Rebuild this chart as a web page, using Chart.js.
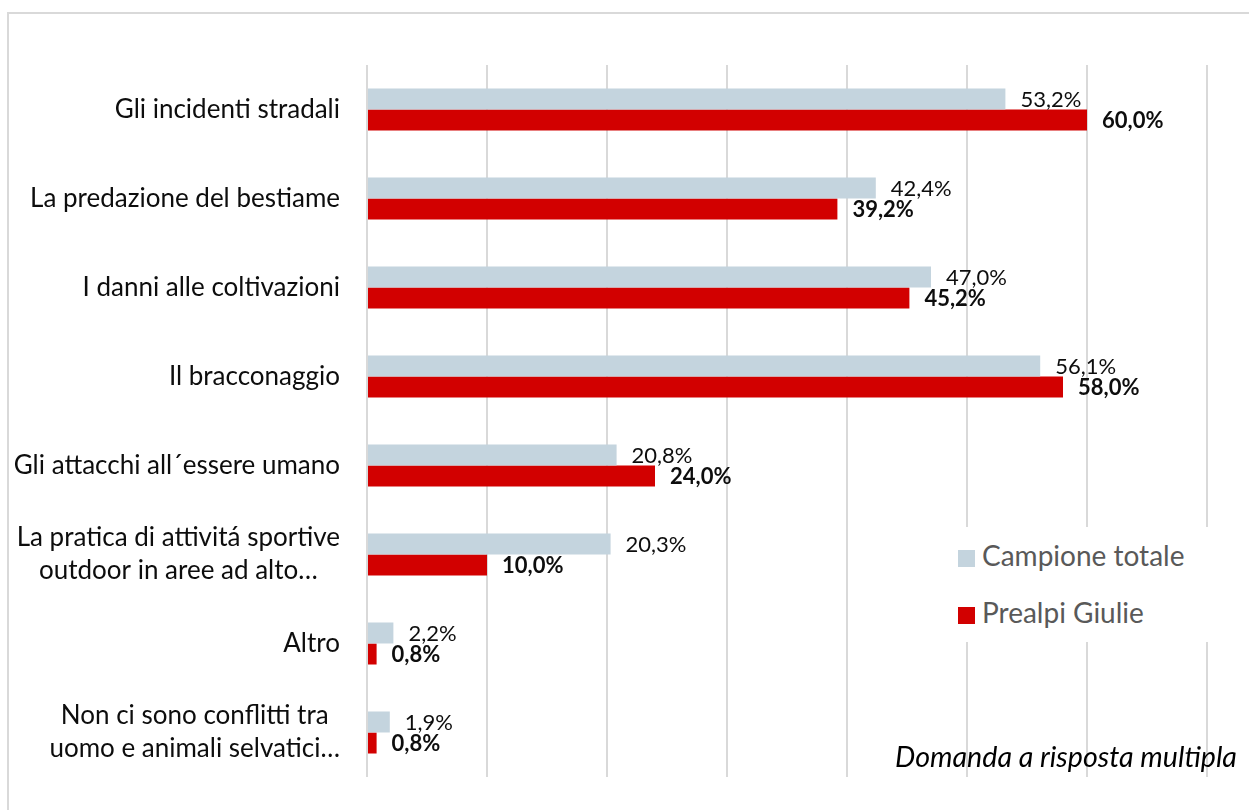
<!DOCTYPE html>
<html>
<head>
<meta charset="utf-8">
<script src="https://cdn.jsdelivr.net/npm/chart.js@4/dist/chart.umd.min.js"></script>
<style>
  html, body { margin: 0; padding: 0; background: #fff; }
  body { width: 1249px; height: 810px; position: relative; overflow: hidden; font-family: Lato, sans-serif; }
  #frame { position: absolute; left: 7px; top: 12px; width: 1260px; height: 820px; border-top: 2px solid #d9d9d9; border-left: 2px solid #d9d9d9; }
  #chart { position: absolute; left: 0; top: 0; }
  #legend { position: absolute; left: 945px; top: 527px; width: 300px; height: 115px; background: #fff; }
  .item { position: absolute; left: 13px; font-size: 28px; color: #595959; line-height: 30px; white-space: nowrap; }
  .item span.sw { display: inline-block; width: 17px; height: 17px; margin-right: 7px; vertical-align: -1px; }
  #note { position: absolute; left: 895px; top: 739px; font-size: 28.6px; font-style: italic; color: #000; white-space: nowrap; }
</style>
</head>
<body>
<div id="frame"></div>
<canvas id="chart" width="1249" height="810"></canvas>
<div id="legend"></div>
<div id="note">Domanda a risposta multipla</div>
<script>
// categorie (asse verticale)
const categories = [
    'Gli incidenti stradali',
    'La predazione del bestiame',
    'I danni alle coltivazioni',
    'Il bracconaggio',
    'Gli attacchi all´essere umano',
    ['La pratica di attivitá sportive', 'outdoor in aree ad alto…'],
    'Altro',
    ['Non ci sono conflitti tra', 'uomo e animali selvatici…']
];
const seriesNames = ['Campione totale', 'Prealpi Giulie'];
const campioneTotale = [53.2, 42.4, 47.0, 56.1, 20.8, 20.3, 2.2, 1.9];
const prealpiGiulie = [60.0, 39.2, 45.2, 58.0, 24.0, 10.0, 0.8, 0.8];
const seriesColors = ['#c4d4de', '#d20000'];
const xTicks = [0, 10, 20, 30, 40, 50, 60, 70];

const fmt = v => v.toFixed(1).replace('.', ',') + '%';

// etichette valori a destra delle barre
const valueLabels = {
    id: 'valueLabels',
    afterDatasetsDraw(chart) {
        const ctx = chart.ctx;
        ctx.save();
        ctx.textBaseline = 'middle';
        ctx.textAlign = 'left';
        ctx.fillStyle = '#0d0d0d';
        chart.data.datasets.forEach((ds, i) => {
            ctx.font = (i === 1 ? 'bold ' : '') + '22px Lato';
            chart.getDatasetMeta(i).data.forEach((bar, j) => {
                ctx.fillText(fmt(ds.data[j]), bar.x + 15, bar.y + 1);
            });
        });
        ctx.restore();
    }
};

// etichette categorie: blocco allineato a destra, righe centrate (come Excel)
const categoryLabels = {
    id: 'categoryLabels',
    afterDraw(chart) {
        const ctx = chart.ctx;
        const y = chart.scales.y;
        const right = y.right - 27;
        const lh = 33;
        ctx.save();
        ctx.font = '26px Lato';
        ctx.fillStyle = '#0d0d0d';
        ctx.textBaseline = 'middle';
        ctx.textAlign = 'center';
        chart.data.labels.forEach((lab, i) => {
            const lines = Array.isArray(lab) ? lab : [lab];
            const w = Math.max(...lines.map(l => ctx.measureText(l).width));
            const cy = y.getPixelForTick(i);
            lines.forEach((l, k) => {
                ctx.fillText(l, right - w / 2, cy + (k - (lines.length - 1) / 2) * lh);
            });
        });
        ctx.restore();
    }
};

const chart = new Chart(document.getElementById('chart'), {
    type: 'bar',
    data: {
        labels: categories,
        datasets: [
            { label: seriesNames[0], data: campioneTotale, backgroundColor: seriesColors[0] },
            { label: seriesNames[1], data: prealpiGiulie, backgroundColor: seriesColors[1] }
        ]
    },
    options: {
        indexAxis: 'y',
        responsive: false,
        animation: false,
        layout: { padding: { left: 0, right: 42, top: 65, bottom: 33 } },
        datasets: { bar: { categoryPercentage: 0.472, barPercentage: 1 } },
        plugins: { legend: { display: false }, tooltip: { enabled: false } },
        scales: {
            x: {
                display: true,
                min: 0, max: 70,
                afterBuildTicks: s => { s.ticks = xTicks.map(v => ({ value: v })); },
                afterFit: s => { s.height = 0; },
                ticks: { display: false, padding: 0 },
                border: { display: false },
                grid: { color: '#d9d9d9', lineWidth: 2, drawTicks: false, tickLength: 0 }
            },
            y: {
                afterFit: s => { s.width = 367; },
                grid: { display: false, drawTicks: false },
                border: { display: false },
                ticks: { display: false }
            }
        }
    },
    plugins: [valueLabels, categoryLabels]
});

// legenda
const legend = document.getElementById('legend');
seriesNames.forEach((name, i) => {
    const el = document.createElement('div');
    el.className = 'item';
    el.style.top = (13 + i * 57) + 'px';
    el.innerHTML = '<span class="sw" style="background:' + seriesColors[i] + '"></span>' + name;
    legend.appendChild(el);
});
</script>
</body>
</html>
